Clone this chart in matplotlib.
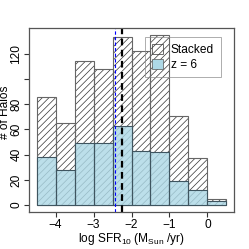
import numpy as np
import matplotlib
matplotlib.use("Agg")
import matplotlib.pyplot as plt
from matplotlib.patches import Patch

plt.rcParams['font.family'] = ['Liberation Sans', 'DejaVu Sans']
plt.rcParams['mathtext.default'] = 'regular'
plt.rcParams['hatch.linewidth'] = 0.5

# histogram bins (log SFR10) and counts
bin_edges = [-4.5, -4.0, -3.5, -3.0, -2.5, -2.0, -1.5, -1.0, -0.5, 0.0, 0.5]
stacked = [86, 65, 114, 108, 133, 122, 135, 71, 37, 5]
z6 = [38, 28, 49, 49, 63, 43, 42, 19, 12, 3]
vline_blue = -2.43
vline_black = -2.26
xticks = [-4, -3, -2, -1, 0]
yticks = [0, 20, 40, 60, 80, 100, 120]
ytick_labels = ["0", "20", "40", "60", "80", "", "120"]

edges = np.array(bin_edges)
left = edges[:-1]
width = np.diff(edges)
fs = 8.6

fig = plt.figure(figsize=(2.49, 2.49), dpi=100)
ax = fig.add_axes([0.1165, 0.1486, 0.8233, 0.739])

# hatched stacked histogram
ax.bar(left, stacked, width=width, align='edge', color='white',
       edgecolor='#333333', hatch='/////', linewidth=0)
ax.bar(left, stacked, width=width, align='edge', fill=False,
       edgecolor='#666666', linewidth=0.8)
# z = 6 on top, slightly see-through
ax.bar(left, z6, width=width, align='edge', color='#ADD8E6', alpha=0.82,
       edgecolor='none', linewidth=0)
ax.bar(left, z6, width=width, align='edge', fill=False,
       edgecolor='#3f5560', linewidth=0.8)

ax.axvline(vline_blue, color='blue', linestyle=(0, (3, 2)), linewidth=0.8)
ax.axvline(vline_black, color='black', linestyle=(0, (3, 2)), linewidth=1.6)

ax.set_xlim(-4.7, 0.7)
ax.set_ylim(-5.4, 140.4)
ax.set_xticks(xticks)
ax.set_xticklabels([str(t).replace('-', '\u2212') for t in xticks])
ax.set_yticks(yticks)
ax.set_yticklabels(ytick_labels, rotation=90, va='center')
ax.tick_params(direction='out', length=3.6, width=0.8, labelsize=fs,
               color='#333333')
ax.tick_params(axis='x', pad=1.5)
ax.tick_params(axis='y', pad=1.2)
for s in ax.spines.values():
    s.set_linewidth(0.9)
    s.set_color('#555555')

ax.set_xlabel('log SFR$_{10}$ (M$_{Sun}$ /yr)', fontsize=fs, labelpad=0)
ax.set_ylabel('# of Halos', fontsize=fs)
ax.yaxis.set_label_coords(-0.09, 0.54)

handles = [Patch(facecolor='white', edgecolor='#333333', hatch='/////', linewidth=0.5),
           Patch(facecolor='#ADD8E6', edgecolor='#555555', linewidth=0.5)]
leg = ax.legend(handles, ['Stacked', 'z = 6'], loc='upper right',
                bbox_to_anchor=(0.935, 0.95), fontsize=fs, frameon=True,
                fancybox=False, handlelength=0.9, handleheight=0.9,
                handletextpad=0.7, borderpad=0.55, labelspacing=0.25,
                borderaxespad=0)
leg.get_frame().set_facecolor('none')
leg.get_frame().set_edgecolor('#888888')
leg.get_frame().set_linewidth(0.6)

fig.savefig('out.png', dpi=100)
